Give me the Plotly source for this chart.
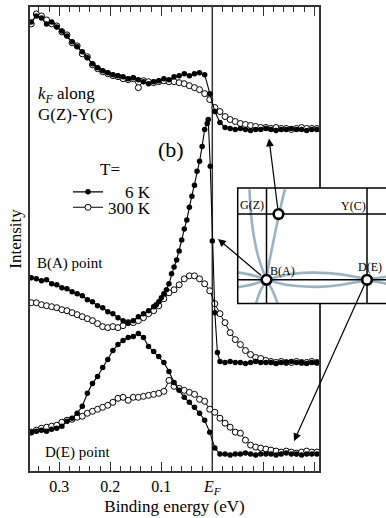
import plotly.graph_objects as go

# ---------------- data (binding energy in eV, intensity in arb. units) ----------------
E_GRID = [0.355, 0.345, 0.335, 0.325, 0.315, 0.305, 0.295, 0.285, 0.275, 0.265,
          0.255, 0.245, 0.235, 0.225, 0.215, 0.205, 0.195, 0.185, 0.175, 0.165,
          0.155, 0.145, 0.135, 0.125, 0.115, 0.105, 0.095, 0.085, 0.075, 0.065,
          0.055, 0.045, 0.035, 0.025, 0.015, 0.005, -0.005, -0.015, -0.025, -0.035,
          -0.045, -0.055, -0.065, -0.075, -0.085, -0.095, -0.105, -0.115, -0.125, -0.135,
          -0.145, -0.155, -0.165, -0.175, -0.185, -0.195, -0.205]

# k_F along G(Z)-Y(C)
top_6K = [451, 457, 455, 449, 451, 446, 442, 437, 431, 426,
          421, 415, 409, 405, 402, 400, 398, 397, 396, 394,
          395, 393, 391, 389, 391, 392, 394, 393, 396, 397,
          399, 397, 399, 400, 398, 379, 361, 350, 345, 344,
          343, 344, 343, 342, 343, 343, 344, 343, 342, 343,
          343, 344, 343, 343, 342, 343, 343]
top_300K = [449, 459, 457, 453, 449, 447, 441, 438, 430, 427,
            419, 416, 408, 404, 401, 399, 397, 396, 394, 393,
            394, 385, 392, 391, 390, 391, 392, 391, 391, 390,
            389, 387, 385, 383, 379, 373, 365, 361, 356, 353,
            351, 349, 348, 347, 346, 345, 345, 344, 345, 344,
            344, 343, 344, 345, 344, 344, 344]

# B(A) point
E_BA_6K = [0.355, 0.345, 0.335, 0.325, 0.315, 0.305, 0.295, 0.285, 0.275, 0.265,
           0.255, 0.245, 0.235, 0.225, 0.215, 0.205, 0.195, 0.185, 0.175, 0.165,
           0.155, 0.145, 0.135, 0.125, 0.115,
           0.110, 0.105, 0.100, 0.095, 0.090, 0.085, 0.080, 0.075, 0.070, 0.065,
           0.060, 0.055, 0.050, 0.045, 0.040, 0.035, 0.030, 0.025, 0.020, 0.015, 0.010,
           0.008, 0.004, 0.000, -0.005, -0.010, -0.015,
           -0.025, -0.035, -0.045, -0.055, -0.065, -0.075, -0.085, -0.095, -0.105, -0.115,
           -0.125, -0.135, -0.145, -0.155, -0.165, -0.175, -0.185, -0.195, -0.205]
ba_6K = [194, 193, 191, 192, 188, 187, 184, 183, 180, 178,
         176, 172, 170, 166, 164, 160, 158, 154, 151, 149,
         151, 155, 158, 161, 165,
         167, 170, 174, 178, 182, 188, 198, 205, 212, 221,
         232, 243, 252, 265, 276, 287, 301, 311, 326, 343, 349,
         353, 306, 231, 159, 119, 110,
         109, 110, 109, 109, 108, 109, 110, 109, 109, 109,
         108, 109, 109, 110, 109, 109, 108, 109, 109]
ba_300K = [169, 169, 167, 166, 165, 164, 162, 161, 159, 157,
           155, 153, 151, 148, 145, 144, 145, 144, 146, 149,
           149, 151, 154, 158, 161, 166, 173, 179, 182, 187,
           193, 196, 196, 193, 188, 181, 168, 158, 149, 139,
           132, 127, 121, 117, 114, 113, 111, 110, 109, 110,
           109, 109, 110, 109, 109, 110, 109]

# D(E) point
de_6K = [39, 40, 41, 40, 42, 43, 45, 50, 53, 58,
         65, 78, 88, 95, 104, 112, 121, 127, 131, 134,
         135, 138, 134, 125, 120, 115, 109, 100, 89, 81,
         74, 69, 64, 58, 51, 39, 23, 17, 17, 16,
         17, 17, 18, 17, 16, 17, 17, 17, 16, 17,
         18, 17, 17, 16, 17, 17, 17]
de_300K = [39, 41, 43, 44, 45, 46, 49, 51, 52, 54,
           55, 58, 60, 62, 64, 66, 69, 73, 74, 71,
           74, 74, 75, 76, 77, 78, 80, 91, 85, 83,
           81, 79, 77, 72, 70, 62, 59, 53, 48, 44,
           39, 38, 31, 26, 24, 23, 22, 21, 20, 19,
           20, 19, 18, 19, 20, 19, 19]

TICK_VALS = [0.3, 0.2, 0.1, 0.0, -0.1, -0.2]
TICK_TEXT = ["0.3", "0.2", "0.1", "<i>E</i><sub><i>F</i></sub>", "", ""]

# ---------------- figure ----------------
SERIF = "Liberation Serif"
W, H = 386, 518
ML, MR, MT, MB = 30, 67, 5, 47
PW, PH = W - ML - MR, H - MT - MB


def P(x, y):
    """pixel position -> paper coordinates (for the schematic inset/annotations)"""
    return (x - ML) / PW, (H - MB - y) / PH


fig = go.Figure()

style_6K = dict(mode="lines+markers", line=dict(color="black", width=1.1),
                marker=dict(symbol="circle", size=5.5, color="black"))
style_300K = dict(mode="lines+markers", line=dict(color="black", width=1),
                  marker=dict(symbol="circle", size=6, color="white",
                              line=dict(color="black", width=1)))

groups = [(E_GRID, top_6K, E_GRID, top_300K, True),
          (E_BA_6K, ba_6K, E_GRID, ba_300K, False),
          (E_GRID, de_6K, E_GRID, de_300K, False)]
for e6, y6, e3, y3, leg in groups:
    fig.add_trace(go.Scatter(x=e3, y=y3, name="300 K", showlegend=leg,
                             legend="legend2", **style_300K))
    fig.add_trace(go.Scatter(x=e6, y=y6, name="\u00a0\u00a0\u00a0\u00a06 K",
                             showlegend=leg, legend="legend", **style_6K))

shapes = []
# Fermi level line
shapes.append(dict(type="line", xref="x", yref="paper", x0=0, x1=0, y0=0, y1=1,
                   line=dict(color="#333", width=1.5), layer="below"))

# ---- inset (schematic Fermi surface) ----
ix0, iy0 = P(237.7, 186.7)
ix1, iy1 = P(395, 302.7)
shapes.append(dict(type="rect", xref="paper", yref="paper", x0=ix0, x1=ix1, y0=iy1, y1=iy0,
                   fillcolor="white", line=dict(width=0), layer="above"))


def smooth_path(pts):
    pp = [P(x, y) for x, y in pts]
    s = "M %.4f,%.4f" % pp[0]
    if len(pp) == 2:
        return s + " L %.4f,%.4f" % pp[1]
    mid = lambda a, b: ((a[0] + b[0]) / 2, (a[1] + b[1]) / 2)
    s += " L %.4f,%.4f" % mid(pp[0], pp[1])
    for i in range(1, len(pp) - 1):
        m = mid(pp[i], pp[i + 1])
        s += " Q %.4f,%.4f %.4f,%.4f" % (pp[i][0], pp[i][1], m[0], m[1])
    s += " L %.4f,%.4f" % pp[-1]
    return s


FS_COLOR = "#9ab3c1"
fs_curves = [
    [(249.5, 188), (250.5, 210), (253.5, 235), (259, 260), (266.5, 279)],
    [(285, 188), (280.5, 206), (277, 223), (272, 247), (267.5, 270), (266.5, 279)],
    [(266.5, 279), (290, 272.5), (315, 271.5), (342, 273), (367, 279), (392, 275)],
    [(266.5, 279), (290, 285.5), (330, 286.5), (367, 279), (392, 284)],
    [(238, 271.5), (252, 274), (266.5, 279)],
    [(238, 286.5), (252, 284), (266.5, 279)],
    [(266.5, 279), (260, 290), (256, 302.7)],
    [(266.5, 279), (273, 290), (277.5, 302.7)],
]
for c in fs_curves:
    shapes.append(dict(type="path", xref="paper", yref="paper", path=smooth_path(c),
                       line=dict(color=FS_COLOR, width=2.6), layer="above"))

LW = 1.5
for (xa, ya, xb, yb) in [(266.5, 186.7, 266.5, 302.7), (367, 186.7, 367, 302.7),
                         (237.7, 213, 395, 213), (237.7, 279, 395, 279)]:
    a = P(xa, ya)
    b = P(xb, yb)
    shapes.append(dict(type="line", xref="paper", yref="paper", x0=a[0], y0=a[1],
                       x1=b[0], y1=b[1], line=dict(color="black", width=LW), layer="above"))
shapes.append(dict(type="rect", xref="paper", yref="paper", x0=ix0, x1=ix1, y0=iy1, y1=iy0,
                   line=dict(color="black", width=LW), layer="above"))

CIRCLES = [(278.5, 213), (266.5, 279), (367, 279)]
for cx, cy in CIRCLES:
    px_, py_ = P(cx, cy)
    shapes.append(dict(type="circle", xref="paper", yref="paper",
                       xsizemode="pixel", ysizemode="pixel",
                       xanchor=px_, yanchor=py_, x0=-4.8, x1=4.8, y0=-4.8, y1=4.8,
                       fillcolor="white", line=dict(color="black", width=2.6),
                       layer="above"))

annotations = []


def text(t, x, y, size, xanchor="center", angle=0):
    px_, py_ = P(x, y)
    annotations.append(dict(text=t, x=px_, y=py_, xref="paper", yref="paper",
                            xanchor=xanchor, yanchor="middle", showarrow=False,
                            textangle=angle,
                            font=dict(family=SERIF, size=size, color="black")))


text("<i>k</i><sub><i>F</i></sub> along", 36, 93, 17, "left")
text("G(Z)-Y(C)", 36, 113, 17, "left")
text("(b)", 171, 148, 22)
text("T=", 110, 168, 17)
text("B(A) point", 35, 263, 15, "left")
text("D(E) point", 43, 452, 15, "left")
text("G(Z)", 251.5, 203.5, 12)
text("Y(C)", 353.7, 205, 12)
text("B(A)", 282.3, 270, 12)
text("D(E)", 369.7, 266.5, 12)

# arrows from inset points to spectra
ARROWS = [((269, 137), (278.5, 213)), ((218, 238), (266.5, 279)), ((294, 441), (367, 279))]
for (hx, hy), (tx, ty) in ARROWS:
    px_, py_ = P(hx, hy)
    annotations.append(dict(text="", x=px_, y=py_, xref="paper", yref="paper",
                            ax=tx - hx, ay=ty - hy, showarrow=True, arrowhead=2,
                            arrowsize=1.3, arrowwidth=1.2, arrowcolor="black",
                            startstandoff=5))

LEG = dict(xanchor="left", yanchor="top", bgcolor="rgba(0,0,0,0)",
           font=dict(family=SERIF, size=17), itemwidth=30, tracegroupgap=0)

fig.update_layout(
    width=W, height=H,
    margin=dict(l=ML, r=MR, t=MT, b=MB, pad=0),
    paper_bgcolor="white", plot_bgcolor="white",
    font=dict(family=SERIF, size=16, color="black"),
    showlegend=True,
    legend=dict(x=P(68, 0)[0], y=P(0, 173)[1], **LEG),
    legend2=dict(x=P(68, 0)[0], y=P(0, 188.5)[1], **LEG),
    shapes=shapes, annotations=annotations,
    xaxis=dict(range=[0.3575, -0.2092], showgrid=False, zeroline=False,
               showline=True, linecolor="#333", linewidth=1.8, mirror="ticks",
               tickmode="array", tickvals=TICK_VALS, ticktext=TICK_TEXT,
               ticks="inside", ticklen=9, tickwidth=1.3, tickcolor="#333",
               tickfont=dict(family=SERIF, size=16),
               minor=dict(tickmode="linear", tick0=0, dtick=0.02, ticks="inside",
                          ticklen=5, tickwidth=1.2, tickcolor="#333", showgrid=False),
               title=dict(text="Binding energy (eV)", font=dict(family=SERIF, size=17),
                          standoff=2)),
    yaxis=dict(range=[0, 466], showgrid=False, zeroline=False, showline=True,
               linecolor="#333", linewidth=1.8, mirror=True, ticks="",
               showticklabels=False,
               title=dict(text="Intensity", font=dict(family=SERIF, size=17), standoff=2)),
)

fig.write_html("out.html")
